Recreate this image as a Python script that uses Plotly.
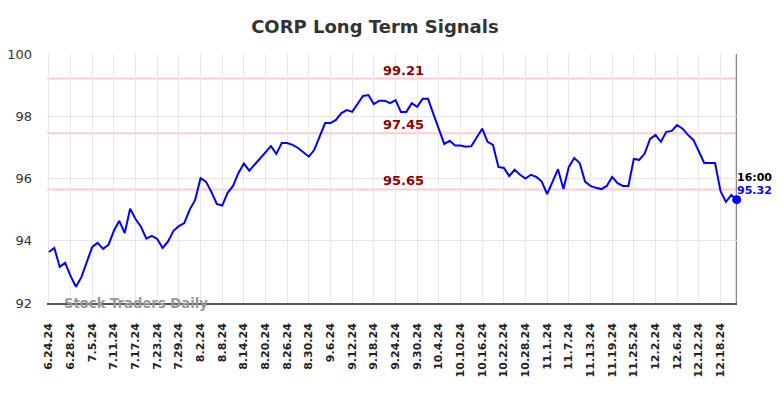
import plotly.graph_objects as go

dates = ["6.24.24","6.25.24","6.26.24","6.27.24","6.28.24","7.1.24","7.2.24","7.3.24","7.5.24","7.8.24",
 "7.9.24","7.10.24","7.11.24","7.12.24","7.15.24","7.16.24","7.17.24","7.18.24","7.19.24","7.22.24",
 "7.23.24","7.24.24","7.25.24","7.26.24","7.29.24","7.30.24","7.31.24","8.1.24","8.2.24","8.5.24",
 "8.6.24","8.7.24","8.8.24","8.9.24","8.12.24","8.13.24","8.14.24","8.15.24","8.16.24","8.19.24",
 "8.20.24","8.21.24","8.22.24","8.23.24","8.26.24","8.27.24","8.28.24","8.29.24","8.30.24","9.3.24",
 "9.4.24","9.5.24","9.6.24","9.9.24","9.10.24","9.11.24","9.12.24","9.13.24","9.16.24","9.17.24",
 "9.18.24","9.19.24","9.20.24","9.23.24","9.24.24","9.25.24","9.26.24","9.27.24","9.30.24","10.1.24",
 "10.2.24","10.3.24","10.4.24","10.7.24","10.8.24","10.9.24","10.10.24","10.11.24","10.14.24","10.15.24",
 "10.16.24","10.17.24","10.18.24","10.21.24","10.22.24","10.23.24","10.24.24","10.25.24","10.28.24","10.29.24",
 "10.30.24","10.31.24","11.1.24","11.4.24","11.5.24","11.6.24","11.7.24","11.8.24","11.11.24","11.12.24",
 "11.13.24","11.14.24","11.15.24","11.18.24","11.19.24","11.20.24","11.21.24","11.22.24","11.25.24","11.26.24",
 "11.27.24","11.29.24","12.2.24","12.3.24","12.4.24","12.5.24","12.6.24","12.9.24","12.10.24","12.11.24",
 "12.12.24","12.13.24","12.16.24","12.17.24","12.18.24","12.19.24","12.20.24","12.23.24"]

prices = [93.64,93.77,93.16,93.29,92.87,92.52,92.83,93.29,93.80,93.93,
 93.74,93.87,94.32,94.64,94.25,95.03,94.70,94.45,94.07,94.16,
 94.06,93.77,93.98,94.32,94.47,94.57,95.00,95.31,96.01,95.90,
 95.57,95.18,95.13,95.54,95.76,96.18,96.48,96.25,96.44,96.63,
 96.85,97.04,96.79,97.14,97.14,97.08,96.98,96.85,96.70,96.92,
 97.34,97.78,97.78,97.88,98.10,98.20,98.14,98.39,98.65,98.68,
 98.39,98.50,98.50,98.42,98.52,98.14,98.14,98.42,98.30,98.56,
 98.56,98.07,97.60,97.11,97.21,97.06,97.06,97.02,97.04,97.33,
 97.60,97.18,97.08,96.37,96.34,96.08,96.28,96.12,96.00,96.12,
 96.05,95.90,95.50,95.90,96.30,95.66,96.37,96.66,96.50,95.90,
 95.76,95.70,95.66,95.76,96.05,95.85,95.76,95.76,96.63,96.60,
 96.80,97.27,97.40,97.18,97.50,97.53,97.72,97.60,97.40,97.24,
 96.87,96.50,96.50,96.50,95.60,95.25,95.47,95.32]

levels = [99.21, 97.45, 95.65]
level_labels = ["99.21", "97.45", "95.65"]
y_ticks = [92, 94, 96, 98, 100]
last_time = "16:00"
last_price = "95.32"
title = "CORP Long Term Signals"
watermark = "Stock Traders Daily"

idx = list(range(len(dates)))
tick_idx = idx[::4]
tick_text = [dates[i] for i in tick_idx]

fig = go.Figure()
fig.add_trace(go.Scatter(x=idx, y=prices, mode="lines",
                         line=dict(color="#0000ff", width=2), showlegend=False, hoverinfo="skip"))
fig.add_trace(go.Scatter(x=[idx[-1]], y=[prices[-1]], mode="markers", cliponaxis=False,
                         marker=dict(color="#0000ff", size=9), showlegend=False, hoverinfo="skip"))

for lv, lab in zip(levels, level_labels):
    fig.add_shape(type="line", xref="paper", x0=0, x1=1, y0=lv, y1=lv,
                  line=dict(color="rgba(255,0,0,0.2)", width=2), layer="below")
    fig.add_annotation(x=0.516, xref="paper", y=lv, yref="y", text="<b>%s</b>" % lab,
                       showarrow=False, yanchor="bottom", yshift=-1,
                       font=dict(family="DejaVu Sans", size=13, color="#8b0000"))

# right vertical line at last point
fig.add_shape(type="line", xref="x", yref="paper", x0=idx[-1], x1=idx[-1], y0=0, y1=1,
              line=dict(color="#888888", width=2), layer="below")

fig.add_annotation(x=idx[-1], y=prices[-1], xref="x", yref="y", text="<b>%s</b>" % last_time,
                   showarrow=False, xanchor="left", yanchor="bottom", yshift=14, xshift=-2,
                   font=dict(family="DejaVu Sans", size=11, color="#000000"))
fig.add_annotation(x=idx[-1], y=prices[-1], xref="x", yref="y", text="<b>%s</b>" % last_price,
                   showarrow=False, xanchor="left", yanchor="bottom", yshift=1, xshift=-2,
                   font=dict(family="DejaVu Sans", size=11, color="#0000ff"))

fig.add_annotation(x=0.022, xref="paper", y=0.0, yref="paper", text="<b>%s</b>" % watermark,
                   showarrow=False, xanchor="left", yanchor="middle",
                   font=dict(family="DejaVu Sans", size=13.2, color="#999999"))

fig.update_layout(
    width=784, height=398,
    margin=dict(l=39, r=55, t=46, b=103),
    paper_bgcolor="white", plot_bgcolor="white",
    title=dict(text="<b>%s</b>" % title, x=0.468, xanchor="center", y=0.952, yanchor="middle",
               font=dict(family="DejaVu Sans", size=18, color="#333333")),
    xaxis=dict(range=[-0.35, idx[-1] + 0.05], tickmode="array", tickvals=tick_idx, ticktext=tick_text,
               tickangle=-90, showgrid=True, gridcolor="#e6e6e6", gridwidth=1, automargin=False,
               showline=True, linecolor="#555555", linewidth=1.5, ticks="",
               ticklabelstandoff=14, zeroline=False,
               tickfont=dict(family="DejaVu Sans", size=11, color="#222222", weight="bold")),
    yaxis=dict(range=[92, 100], tickmode="array", tickvals=y_ticks, showgrid=True, automargin=False,
               gridcolor="#e6e6e6", gridwidth=1, zeroline=False, ticks="",
               ticklabelstandoff=14,
               tickfont=dict(family="DejaVu Sans", size=13, color="#333333")),
)

fig.write_html("out.html")
